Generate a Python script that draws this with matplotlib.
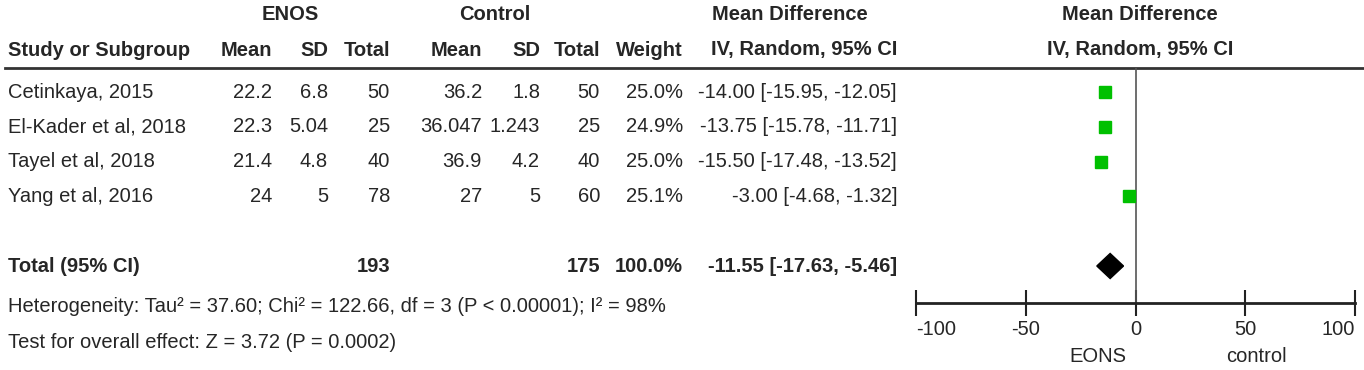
import matplotlib
matplotlib.use("Agg")
from matplotlib import pyplot as plt
from matplotlib.patches import Polygon

studies = ['Cetinkaya, 2015', 'El-Kader et al, 2018', 'Tayel et al, 2018', 'Yang et al, 2016']
enos_mean = ['22.2', '22.3', '21.4', '24']
enos_sd = ['6.8', '5.04', '4.8', '5']
enos_total = ['50', '25', '40', '78']
ctrl_mean = ['36.2', '36.047', '36.9', '27']
ctrl_sd = ['1.8', '1.243', '4.2', '5']
ctrl_total = ['50', '25', '40', '60']
weights = ['25.0%', '24.9%', '25.0%', '25.1%']
md = [-14.00, -13.75, -15.50, -3.00]
ci_low = [-15.95, -15.78, -17.48, -4.68]
ci_high = [-12.05, -11.71, -13.52, -1.32]

total_enos = '193'
total_ctrl = '175'
total_weight = '100.0%'
total_md = -11.55
total_low = -17.63
total_high = -5.46

xticks = [-100, -50, 0, 50, 100]
favours = ['EONS', 'control']
hetero = 'Heterogeneity: Tau² = 37.60; Chi² = 122.66, df = 3 (P < 0.00001); I² = 98%'
overall = 'Test for overall effect: Z = 3.72 (P = 0.0002)'

FONT = ['Liberation Sans', 'DejaVu Sans']
TXT = '#262626'
FS = 14.5

W, H = 1364, 370
fig = plt.figure(figsize=(W / 100, H / 100), dpi=100)

# text layer in pixel coordinates
tx = fig.add_axes([0, 0, 1, 1])
tx.set_xlim(0, W)
tx.set_ylim(H, 0)
tx.axis('off')

def row_y(i):
    return 92 + 34.8 * i

def put(x, y, s, ha='right', bold=False):
    tx.text(x, y, s, ha=ha, va='center', fontsize=FS, color=TXT,
            family=FONT, fontweight='bold' if bold else 'normal')

# group headers
put(290, 15, 'ENOS', ha='center', bold=True)
put(495, 15, 'Control', ha='center', bold=True)
put(790, 15, 'Mean Difference', ha='center', bold=True)
put(1140, 15, 'Mean Difference', ha='center', bold=True)

col_x = [272, 328, 390, 482, 540, 600, 683]
heads = ['Mean', 'SD', 'Total', 'Mean', 'SD', 'Total', 'Weight']
put(8, 50, 'Study or Subgroup', ha='left', bold=True)
for x, h in zip(col_x, heads):
    put(x, 50, h, bold=True)
put(897, 50, 'IV, Random, 95% CI', bold=True)
put(1140, 50, 'IV, Random, 95% CI', ha='center', bold=True)

tx.plot([5, W], [68, 68], color='#333333', lw=2)

for i, name in enumerate(studies):
    y = row_y(i)
    put(8, y, name, ha='left')
    vals = [enos_mean[i], enos_sd[i], enos_total[i], ctrl_mean[i],
            ctrl_sd[i], ctrl_total[i], weights[i]]
    for x, v in zip(col_x, vals):
        put(x, y, v)
    put(897, y, '%.2f [%.2f, %.2f]' % (md[i], ci_low[i], ci_high[i]))

yt = row_y(5)
put(8, yt, 'Total (95% CI)', ha='left', bold=True)
put(col_x[2], yt, total_enos, bold=True)
put(col_x[5], yt, total_ctrl, bold=True)
put(col_x[6], yt, total_weight, bold=True)
put(897, yt, '%.2f [%.2f, %.2f]' % (total_md, total_low, total_high), bold=True)

put(8, 307, hetero, ha='left')
put(8, 342, overall, ha='left')

# forest plot area: x from pixel 916 to 1355, y from 68 (top) to 303 (axis)
ax = fig.add_axes([916 / W, 1 - 303 / H, (1355 - 916) / W, (303 - 68) / H])
ax.patch.set_alpha(0)
ax.set_xlim(-100, 100)
ax.set_ylim((303 - 92) / 34.8, (68 - 92) / 34.8)
for s in ['top', 'left', 'right']:
    ax.spines[s].set_visible(False)
ax.spines['bottom'].set_linewidth(2)
ax.spines['bottom'].set_color('#222222')
ax.set_yticks([])
ax.set_xticks(xticks)
ax.set_xticklabels([str(t) for t in xticks], family=FONT, fontsize=FS, color=TXT)
ax.tick_params(axis='x', direction='inout', length=19, width=1.5, pad=3, color='#222222')
labels = ax.get_xticklabels()
labels[0].set_horizontalalignment('left')
labels[-1].set_horizontalalignment('right')
ax.axvline(0, color='#555555', lw=1.2)

for i in range(len(md)):
    ax.plot([ci_low[i], ci_high[i]], [i, i], color='black', lw=1)
    ax.plot(md[i], i, marker='s', ms=8.5, color='#00c000', mec='#00c000')

diamond = Polygon([(total_low, 5), (total_md, 5 - 0.36), (total_high, 5), (total_md, 5 + 0.36)],
                  closed=True, color='black')
ax.add_patch(diamond)

ax.text(-17, 7.6, favours[0], ha='center', va='center', fontsize=FS, color=TXT, family=FONT)
ax.text(55, 7.6, favours[1], ha='center', va='center', fontsize=FS, color=TXT, family=FONT)

fig.savefig('out.png', dpi=100)
